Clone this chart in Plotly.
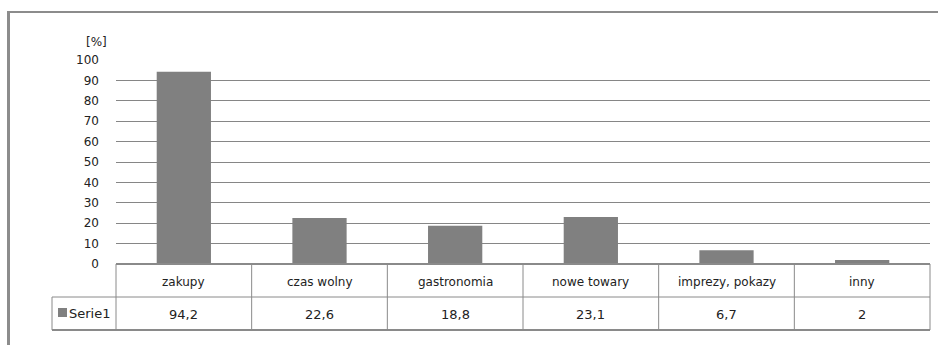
import plotly.graph_objects as go

categories = ["zakupy", "czas wolny", "gastronomia", "nowe towary", "imprezy, pokazy", "inny"]
values = [94.2, 22.6, 18.8, 23.1, 6.7, 2]
value_labels = ["94,2", "22,6", "18,8", "23,1", "6,7", "2"]
series_name = "Serie1"
y_ticks = [0, 10, 20, 30, 40, 50, 60, 70, 80, 90, 100]

W, H = 938, 345
L, R, T, B = 116, 8, 60, 81
pw = W - L - R
ph = H - T - B

def px_x(px):
    return (px - L) / pw

def px_y(py):
    return (H - B - py) / ph

grid_col = "#868686"
line_col = "#8a8a8a"
font_fam = "DejaVu Sans, Verdana, sans-serif"

fig = go.Figure()
fig.add_trace(go.Bar(
    x=list(range(len(categories))), y=values, name=series_name,
    marker=dict(color="#808080", line=dict(width=0)),
    width=0.4, showlegend=False, hoverinfo="skip",
))

shapes = []
n = len(categories)
row1 = px_y(297)
row2 = px_y(330)
# table horizontal lines
shapes.append(dict(type="line", xref="paper", yref="paper", x0=0, x1=1, y0=0, y1=0,
                   line=dict(color=line_col, width=2)))
shapes.append(dict(type="line", xref="paper", yref="paper", x0=px_x(52), x1=1, y0=row1, y1=row1,
                   line=dict(color=line_col, width=1)))
shapes.append(dict(type="line", xref="paper", yref="paper", x0=px_x(52), x1=1, y0=row2, y1=row2,
                   line=dict(color=line_col, width=2)))
# vertical lines
for i in range(n + 1):
    xv = i / n
    shapes.append(dict(type="line", xref="paper", yref="paper", x0=xv, x1=xv, y0=0, y1=row2,
                       line=dict(color=line_col, width=1)))
shapes.append(dict(type="line", xref="paper", yref="paper", x0=px_x(52), x1=px_x(52), y0=row1, y1=row2,
                   line=dict(color=line_col, width=1)))
# legend key square
shapes.append(dict(type="rect", xref="paper", yref="paper", x0=px_x(58), x1=px_x(67),
                   y0=px_y(317), y1=px_y(308), fillcolor="#808080", line=dict(width=0)))
# outer frame
shapes.append(dict(type="line", xref="paper", yref="paper", x0=px_x(7), x1=px_x(940),
                   y0=px_y(12), y1=px_y(12), line=dict(color="#8c8c8c", width=2)))
shapes.append(dict(type="line", xref="paper", yref="paper", x0=px_x(8.5), x1=px_x(8.5),
                   y0=px_y(12), y1=px_y(347), line=dict(color="#8c8c8c", width=3)))

annotations = []
for i, (c, v) in enumerate(zip(categories, value_labels)):
    annotations.append(dict(x=i, xref="x", y=px_y(282), yref="paper", text=c, showarrow=False,
                            font=dict(size=12, color="#222", family=font_fam), xanchor="center", yanchor="middle"))
    annotations.append(dict(x=i, xref="x", y=px_y(314), yref="paper", text=v, showarrow=False,
                            font=dict(size=13, color="#222", family=font_fam), xanchor="center", yanchor="middle"))
annotations.append(dict(x=px_x(67), xref="paper", y=px_y(313), yref="paper", text=series_name, showarrow=False,
                        font=dict(size=13, color="#222", family=font_fam), xanchor="left", yanchor="middle"))
annotations.append(dict(x=px_x(96), xref="paper", y=px_y(42), yref="paper", text="[%]", showarrow=False,
                        font=dict(size=12, color="#222", family=font_fam), xanchor="center", yanchor="middle"))

fig.update_layout(
    width=W, height=H, margin=dict(l=L, r=R, t=T, b=B, autoexpand=False),
    paper_bgcolor="white", plot_bgcolor="white",
    bargap=0.6,
    xaxis=dict(range=[-0.5, n - 0.5], showticklabels=False, showgrid=False, zeroline=False,
               showline=False, ticks="", fixedrange=True),
    yaxis=dict(range=[0, 100], tickvals=y_ticks, showgrid=True, gridcolor=grid_col, gridwidth=1,
               zeroline=False, showline=False, ticks="", ticklabelstandoff=16,
               tickfont=dict(size=12, color="#222", family=font_fam), fixedrange=True),
    shapes=shapes, annotations=annotations,
)

fig.write_html("out.html")
